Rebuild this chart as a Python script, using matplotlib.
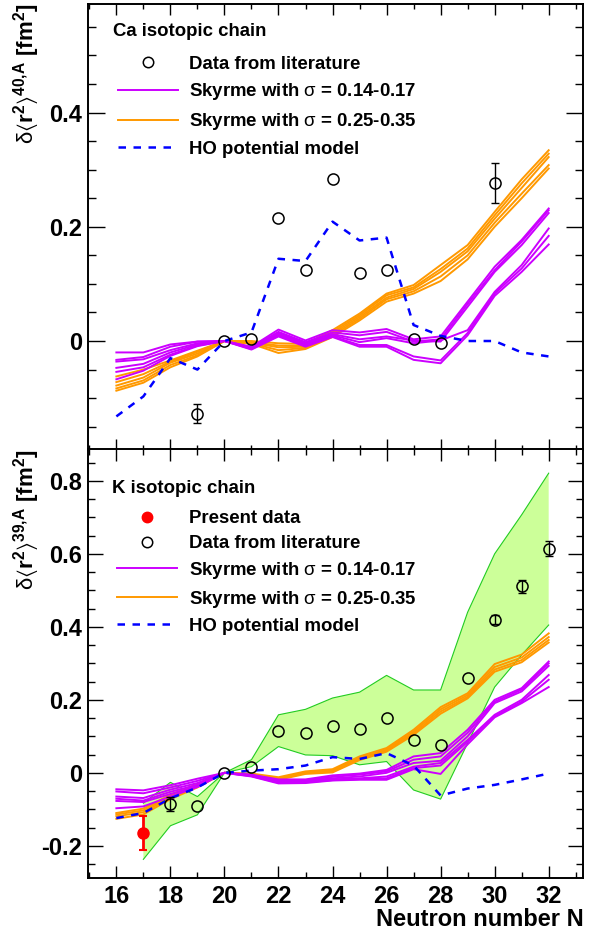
import numpy as np
import matplotlib
matplotlib.use('Agg')
import matplotlib.pyplot as plt
from matplotlib.ticker import MultipleLocator, FuncFormatter
from matplotlib.lines import Line2D

plt.rcParams['font.family'] = ['Liberation Sans', 'DejaVu Sans']
plt.rcParams['mathtext.fontset'] = 'custom'
plt.rcParams['mathtext.rm'] = 'Liberation Sans'
plt.rcParams['mathtext.bf'] = 'Liberation Sans:bold'
plt.rcParams['mathtext.it'] = 'Liberation Sans:italic'
plt.rcParams['mathtext.fallback'] = 'stixsans'

N = np.arange(16, 33)

# ---- Ca chain (top panel) ----
ca_lit_n = [19, 20, 21, 22, 23, 24, 25, 26, 27, 28, 30]
ca_lit_val = [-0.127, 0.0, 0.003, 0.215, 0.125, 0.283, 0.119, 0.124, 0.004, -0.004, 0.276]
ca_lit_err = [0.017, 0, 0, 0, 0, 0, 0, 0, 0, 0, 0.035]

ca_ho = [-0.132, -0.097, -0.030, -0.050, 0.0, 0.015, 0.144, 0.140, 0.209, 0.176, 0.181,
         0.028, 0.009, 0.0, 0.0, -0.020, -0.027]

ca_sky_low = [
    [-0.020, -0.020, -0.006, -0.001, 0, -0.010, 0.020, 0.001, 0.019, 0.015, 0.021, 0.003, 0.008, 0.069, 0.130, 0.177, 0.232],
    [-0.033, -0.028, -0.010, -0.001, 0, -0.011, 0.016, -0.002, 0.015, 0.010, 0.016, -0.001, 0.003, 0.065, 0.124, 0.174, 0.229],
    [-0.036, -0.032, -0.016, -0.004, 0, -0.012, 0.014, -0.004, 0.012, 0.003, 0.008, 0.001, -0.001, 0.060, 0.121, 0.168, 0.224],
    [-0.047, -0.040, -0.020, -0.006, 0, -0.013, 0.012, -0.006, 0.010, -0.002, 0.005, -0.004, 0.001, 0.019, 0.086, 0.133, 0.197],
    [-0.054, -0.046, -0.024, -0.008, 0, -0.014, 0.010, -0.008, 0.008, -0.007, -0.007, -0.027, -0.034, 0.014, 0.083, 0.127, 0.184],
    [-0.067, -0.052, -0.026, -0.009, 0, -0.015, 0.008, -0.010, 0.007, -0.010, -0.010, -0.033, -0.039, 0.010, 0.079, 0.121, 0.169],
]
ca_sky_high = [
    [-0.062, -0.050, -0.034, -0.017, 0, 0.000, -0.004, -0.005, 0.019, 0.048, 0.083, 0.098, 0.133, 0.168, 0.226, 0.283, 0.334],
    [-0.072, -0.058, -0.036, -0.019, 0, -0.002, -0.008, -0.008, 0.016, 0.045, 0.080, 0.094, 0.126, 0.162, 0.220, 0.276, 0.328],
    [-0.078, -0.064, -0.038, -0.022, 0, -0.003, -0.011, -0.010, 0.013, 0.042, 0.076, 0.091, 0.121, 0.157, 0.214, 0.268, 0.322],
    [-0.083, -0.069, -0.042, -0.025, 0, -0.004, -0.016, -0.012, 0.010, 0.039, 0.073, 0.087, 0.113, 0.150, 0.207, 0.258, 0.308],
    [-0.087, -0.073, -0.046, -0.027, 0, -0.005, -0.021, -0.014, 0.007, 0.036, 0.069, 0.083, 0.105, 0.143, 0.200, 0.250, 0.302],
]

# ---- K chain (bottom panel) ----
k_new_n = [17]
k_new_val = [-0.165]
k_new_err = [0.047]

k_lit_n = [18, 19, 20, 21, 22, 23, 24, 25, 26, 27, 28, 29, 30, 31, 32]
k_lit_val = [-0.085, -0.090, 0.0, 0.015, 0.115, 0.109, 0.127, 0.121, 0.150, 0.090, 0.077,
             0.261, 0.420, 0.511, 0.614]
k_lit_err = [0.02, 0, 0, 0, 0, 0, 0, 0, 0, 0, 0, 0, 0.012, 0.018, 0.02]

k_ho = [-0.124, -0.110, -0.070, -0.040, 0.0, 0.006, 0.010, 0.020, 0.043, 0.038, 0.054,
        0.020, -0.062, -0.043, -0.033, -0.018, -0.002]

k_band_n = np.arange(17, 33)
k_band_hi = [-0.083, -0.026, -0.065, 0.0, 0.036, 0.159, 0.174, 0.205, 0.221, 0.267, 0.227,
             0.227, 0.440, 0.600, 0.707, 0.821]
k_band_lo = [-0.237, -0.145, -0.115, 0.0, 0.017, 0.072, 0.049, 0.047, 0.022, 0.031, -0.047,
             -0.072, 0.081, 0.235, 0.323, 0.405]

k_sky_low = [
    [-0.045, -0.048, -0.034, -0.016, 0, -0.005, -0.018, -0.018, -0.007, -0.002, 0.008, 0.045, 0.054, 0.118, 0.200, 0.232, 0.305],
    [-0.051, -0.056, -0.040, -0.022, 0, -0.006, -0.021, -0.020, -0.011, -0.005, 0.004, 0.036, 0.045, 0.110, 0.195, 0.228, 0.300],
    [-0.065, -0.069, -0.046, -0.028, 0, -0.007, -0.024, -0.022, -0.015, -0.010, 0.000, 0.027, 0.033, 0.100, 0.191, 0.223, 0.293],
    [-0.071, -0.076, -0.052, -0.033, 0, -0.008, -0.026, -0.024, -0.018, -0.015, -0.010, 0.017, 0.027, 0.090, 0.159, 0.200, 0.268],
    [-0.077, -0.080, -0.058, -0.037, 0, -0.009, -0.027, -0.026, -0.020, -0.017, -0.015, 0.013, 0.020, 0.085, 0.155, 0.195, 0.255],
    [-0.097, -0.092, -0.065, -0.039, 0, -0.010, -0.029, -0.028, -0.021, -0.019, -0.019, 0.010, -0.003, 0.078, 0.152, 0.191, 0.235],
]
k_sky_high = [
    [-0.110, -0.098, -0.060, -0.030, 0, -0.002, -0.012, 0.004, 0.010, 0.045, 0.068, 0.118, 0.180, 0.218, 0.298, 0.324, 0.382],
    [-0.114, -0.103, -0.064, -0.033, 0, -0.004, -0.015, 0.001, 0.007, 0.041, 0.064, 0.113, 0.174, 0.213, 0.290, 0.316, 0.372],
    [-0.119, -0.108, -0.068, -0.036, 0, -0.005, -0.017, -0.001, 0.004, 0.038, 0.061, 0.108, 0.168, 0.208, 0.283, 0.309, 0.364],
    [-0.126, -0.114, -0.072, -0.040, 0, -0.006, -0.019, -0.003, 0.001, 0.035, 0.058, 0.104, 0.162, 0.204, 0.277, 0.303, 0.357],
]

MAGENTA = '#cc00ff'
ORANGE = '#ff9900'
BLUE = '#0000ff'
LW = 1.4
TICK_FS = 17
LEG_FS = 13.4

fig = plt.figure(figsize=(6.01, 9.34), dpi=100)
ax1 = fig.add_axes([0.1464, 0.5187, 0.8241, 0.4770])
ax2 = fig.add_axes([0.1464, 0.0600, 0.8241, 0.4588])


def style_axis(ax, ylim, ymaj, yminor_len, xmaj, xminor_len, show_x):
    ax.set_xlim(14.95, 33.28)
    ax.set_ylim(*ylim)
    ax.xaxis.set_major_locator(MultipleLocator(2))
    ax.xaxis.set_minor_locator(MultipleLocator(1))
    ax.yaxis.set_major_locator(MultipleLocator(0.2))
    ax.yaxis.set_minor_locator(MultipleLocator(0.05))
    ax.yaxis.set_major_formatter(FuncFormatter(lambda v, p: f'{v:g}' if abs(v) > 1e-9 else '0'))
    ax.tick_params(axis='both', which='both', direction='in', top=True, right=True, width=1.0)
    ax.tick_params(axis='y', which='major', length=ymaj, pad=4)
    ax.tick_params(axis='y', which='minor', length=yminor_len)
    ax.tick_params(axis='x', which='major', length=xmaj, pad=5)
    ax.tick_params(axis='x', which='minor', length=xminor_len)
    ax.tick_params(labelbottom=show_x)
    for lab in ax.get_yticklabels() + ax.get_xticklabels():
        lab.set_fontsize(TICK_FS)
        lab.set_fontweight('bold')
    for s in ax.spines.values():
        s.set_linewidth(1.4)


def draw_legend(ax, handles, labels, anchor, spacing):
    leg = ax.legend(handles, labels, loc='upper left', bbox_to_anchor=anchor,
                    frameon=False, borderpad=0, borderaxespad=0,
                    handlelength=3.22, handletextpad=0.62, labelspacing=spacing,
                    prop={'size': LEG_FS, 'weight': 'bold'})
    return leg


lit_handle = Line2D([], [], ls='none', marker='o', mfc='none', mec='black', ms=7.5, mew=1.1)
mag_handle = Line2D([], [], color=MAGENTA, lw=LW)
ora_handle = Line2D([], [], color=ORANGE, lw=LW)
ho_handle = Line2D([], [], color=BLUE, lw=1.8, ls=(0, (3, 3)))
new_handle = Line2D([], [], ls='none', marker='o', mfc='red', mec='red', ms=7.5)

sky1 = r'Skyrme with $\mathrm{\sigma}$ = 0.14-0.17'
sky2 = r'Skyrme with $\mathrm{\sigma}$ = 0.25-0.35'

# ---- top panel ----
for vals in ca_sky_high:
    ax1.plot(N, vals, color=ORANGE, lw=LW, zorder=2)
for vals in ca_sky_low:
    ax1.plot(N, vals, color=MAGENTA, lw=LW, zorder=3)
ax1.plot(N, ca_ho, color=BLUE, lw=1.8, ls=(0, (3, 3)), zorder=4)
ca_err = np.array(ca_lit_err)
has_err = ca_err > 0
ax1.errorbar(np.array(ca_lit_n)[has_err], np.array(ca_lit_val)[has_err], yerr=ca_err[has_err],
             fmt='none', ecolor='black', elinewidth=1.0, capsize=3, capthick=1.0, zorder=5)
ax1.plot(ca_lit_n, ca_lit_val, ls='none', marker='o', mfc='none', mec='black', ms=8, mew=1.1, zorder=6)
style_axis(ax1, (-0.19, 0.59), 12.2, 5.8, 7.6, 3.6, False)
ax1.text(0.0505, 0.939, 'Ca isotopic chain', transform=ax1.transAxes, fontsize=LEG_FS,
         fontweight='bold', ha='left', va='center')
draw_legend(ax1, [lit_handle, mag_handle, ora_handle, ho_handle],
            ['Data from literature', sky1, sky2, 'HO potential model'], (0.06, 0.884), 0.47)
ax1.set_ylabel(r'$\mathrm{\delta}\langle\mathbf{r}^{\mathbf{2}}\rangle^{\mathbf{40{,}A}}$ [fm$^{\mathbf{2}}$]',
               fontsize=16, fontweight='bold', loc='top')
ax1.yaxis.set_label_coords(-0.093, 1.0)

# ---- bottom panel ----
ax2.fill_between(k_band_n, k_band_lo, k_band_hi, facecolor='#ccff99', edgecolor='none', zorder=1)
ax2.plot(k_band_n, k_band_hi, color='#22cc22', lw=0.8, zorder=1.5)
ax2.plot(k_band_n, k_band_lo, color='#22cc22', lw=0.8, zorder=1.5)
for vals in k_sky_high:
    ax2.plot(N, vals, color=ORANGE, lw=LW, zorder=2)
for vals in k_sky_low:
    ax2.plot(N, vals, color=MAGENTA, lw=LW, zorder=3)
ax2.plot(N, k_ho, color=BLUE, lw=1.8, ls=(0, (3, 3)), zorder=4)
k_err = np.array(k_lit_err)
has_err = k_err > 0
ax2.errorbar(np.array(k_lit_n)[has_err], np.array(k_lit_val)[has_err], yerr=k_err[has_err],
             fmt='none', ecolor='black', elinewidth=1.0, capsize=3, capthick=1.0, zorder=5)
ax2.plot(k_lit_n, k_lit_val, ls='none', marker='o', mfc='none', mec='black', ms=8, mew=1.1, zorder=6)
ax2.errorbar(k_new_n, k_new_val, yerr=k_new_err, fmt='o', color='red', ms=8,
             elinewidth=2.0, capsize=3, capthick=1.5, zorder=7)
style_axis(ax2, (-0.288, 0.886), 10.8, 5.3, 8.3, 4.0, True)
ax2.text(0.0485, 0.910, 'K isotopic chain', transform=ax2.transAxes, fontsize=LEG_FS,
         fontweight='bold', ha='left', va='center')
draw_legend(ax2, [new_handle, lit_handle, mag_handle, ora_handle, ho_handle],
            ['Present data', 'Data from literature', sky1, sky2, 'HO potential model'],
            (0.059, 0.858), 0.42)
ax2.set_ylabel(r'$\mathrm{\delta}\langle\mathbf{r}^{\mathbf{2}}\rangle^{\mathbf{39{,}A}}$ [fm$^{\mathbf{2}}$]',
               fontsize=16, fontweight='bold', loc='top')
ax2.yaxis.set_label_coords(-0.093, 1.0)
ax2.set_xlabel('Neutron number N', fontsize=TICK_FS, fontweight='bold', loc='right', labelpad=0)

fig.savefig('out.png', dpi=100)
